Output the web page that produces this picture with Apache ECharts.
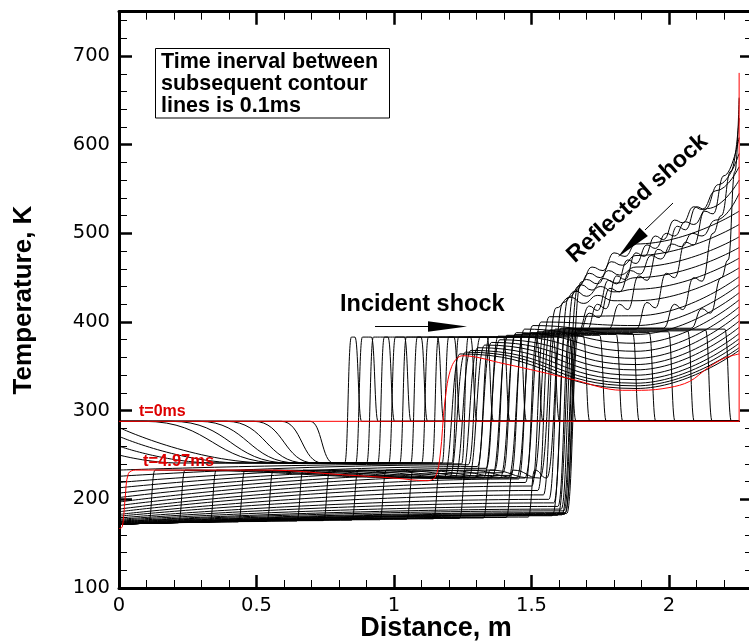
<!DOCTYPE html>
<html>
<head>
<meta charset="utf-8">
<script src="https://cdn.jsdelivr.net/npm/echarts@6/dist/echarts.min.js"></script>
<style>
  html, body { margin: 0; padding: 0; background: #fff; }
  #chart { width: 749px; height: 644px; }
</style>
</head>
<body>
<div id="chart"></div>
<script>
// Temperature along the shock tube, one profile every 0.1 ms (k = 1..49),
// plus the initial state (t = 0) and the last state (t = 4.97 ms) in red.

const TUBE_END = 2.255;      // end wall, m
const T_INITIAL = 288;       // initial gas temperature, K
const T_FAN_TAIL = 241;      // driver gas behind the expansion fan, K
const T_COLD = 172;          // coldest driver gas near x = 0, K
const T_TRANSMITTED = 233;   // driver gas behind the left-running shock, K
const T_NEAR_CONTACT = 224;  // same gas just before the contact surface, K
const DIP_X = 1.88;          // location of the late temperature dip, m

// k = 1..7 : expansion fan head / tail
const fanHeadX = [0.695, 0.59, 0.49, 0.39, 0.29, 0.19, 0.09];
const fanTailX = [0.78, 0.74, 0.71, 0.68, 0.65, 0.62, 0.59];

// k = 8..34 : temperature at x = 0
const wallT = [281, 271, 260, 250,
  233, 226, 219, 213, 207, 202, 197, 193, 189, 186, 183, 181, 179, 177.5,
  176.5, 175.5, 175, 174.5, 174, 173.5, 173, 172.5, 172];

// k = 8..11 : where the reflected fan meets the fan-tail gas
const fanJoinX = [0.55, 0.45, 0.35, 0.22];

// k = 12..34 : driver gas temperature just ahead of the contact surface
const aheadT = [240, 239, 237, 235, 233, 230, 227, 223, 219, 215, 210, 205,
  200, 196, 192, 189, 187, 185, 184, 183, 182.5, 182, 181.5];

// k = 1..49 : contact surface position
const contactX = [0.833, 0.873, 0.913, 0.953, 0.993, 1.033, 1.073, 1.113, 1.15, 1.187,
  1.223, 1.258, 1.292, 1.325, 1.357, 1.388, 1.418, 1.447, 1.475, 1.50,
  1.523, 1.545, 1.565, 1.585, 1.603, 1.618, 1.63, 1.64, 1.645, 1.65,
  1.65, 1.64, 1.625, 1.605, 1.585, 1.56, 1.535, 1.505, 1.475, 1.445,
  1.415, 1.385, 1.355, 1.325, 1.30, 1.275, 1.25, 1.23, 1.21];

// k = 1..23 : incident shock position
const shockX = [0.87, 0.93, 0.99, 1.05, 1.11, 1.17, 1.23, 1.29, 1.35, 1.41, 1.47, 1.53,
  1.59, 1.65, 1.70, 1.76, 1.82, 1.88, 1.94, 2.01, 2.08, 2.145, 2.215];

// k = 1..30 : shocked gas temperature
const plateauT = [383, 383, 383, 383, 383, 383, 383, 383, 383, 383, 383, 383, 383, 383,
  384, 385, 386, 387, 388, 389, 390, 391, 392, 393, 393, 392, 392, 391, 390, 389];

// k = 24..30 : wavy profiles behind the reflected shock
const reflectedRamp = [
  [[2.08, 393], [2.12, 415], [2.15, 410], [2.19, 450], [2.215, 470], [2.24, 570], [2.255, 653]],
  [[1.98, 393], [2.02, 420], [2.05, 414], [2.09, 450], [2.12, 446], [2.16, 500], [2.19, 520], [2.225, 570], [2.255, 630]],
  [[1.88, 392], [1.92, 422], [1.95, 416], [1.99, 455], [2.02, 450], [2.06, 490], [2.09, 487], [2.13, 525], [2.16, 522],
   [2.20, 565], [2.255, 608]],
  [[1.78, 392], [1.82, 420], [1.85, 414], [1.89, 452], [1.92, 447], [1.96, 482], [1.99, 478], [2.03, 508], [2.06, 504],
   [2.10, 530], [2.13, 527], [2.18, 555], [2.255, 590]],
  [[1.70, 391], [1.74, 420], [1.77, 415], [1.81, 452], [1.84, 448], [1.88, 478], [1.91, 474], [1.95, 497], [1.98, 493],
   [2.02, 515], [2.05, 512], [2.09, 530], [2.12, 527], [2.17, 548], [2.255, 575]],
  [[1.67, 390], [1.71, 418], [1.74, 413], [1.78, 447], [1.81, 443], [1.85, 470], [1.88, 466], [1.92, 487], [1.95, 483],
   [1.99, 500], [2.02, 497], [2.06, 513], [2.09, 510], [2.14, 528], [2.255, 560]],
  [[1.675, 389], [1.71, 410], [1.745, 405], [1.785, 438], [1.82, 434], [1.86, 458], [1.895, 454], [1.935, 475], [1.97, 471],
   [2.01, 488], [2.045, 485], [2.085, 500], [2.12, 497], [2.17, 515], [2.255, 545]]
];

// k = 31..49 : late test-gas profile (behind contact, at the dip, at the wall)
const lateTopT  = [445, 440, 434, 428, 422, 416, 406, 400, 396, 392, 388, 384, 380, 377, 374, 371, 368, 366, 364];
const lateMidT  = [488, 475, 462, 450, 437, 424, 407, 396, 386, 376, 367, 359, 352, 346, 340, 335, 331, 328, 325];
const lateWallT = [525, 510, 496, 484, 472, 461, 451, 442, 433, 425, 417, 409, 401, 394, 387, 381, 376, 371, 368];
// k = 31..36 : ripples between the contact and the dip
const lateRipple = [
  [[1.72, 462], [1.76, 458], [1.80, 478], [1.84, 474]],
  [[1.71, 455], [1.75, 450], [1.79, 468], [1.83, 464]],
  [[1.70, 448], [1.74, 443], [1.78, 458], [1.82, 453]],
  [[1.68, 442], [1.72, 436], [1.76, 449], [1.81, 444]],
  [[1.66, 435], [1.70, 429], [1.75, 440], [1.80, 434]],
  [[1.64, 428], [1.69, 421], [1.74, 430], [1.80, 424]]
];

// k = 35..49 : left-running transmitted shock in the driver gas
const frontX = [1.50, 1.42, 1.337, 1.25, 1.155, 1.058, 0.96, 0.858, 0.755, 0.658, 0.549, 0.446, 0.342, 0.228, 0.119];
const frontFootT = [180, 179.5, 179, 178.5, 178, 177.5, 177, 176.5, 176, 175.5, 175, 174.5, 174, 173.5, 173];

// red reference profiles
const profileT0 = [[0, 288], [2.255, 288], [2.255, 681]];
const profileFinal = [[0, 167], [0.012, 169], [0.022, 200], [0.034, 229], [0.06, 233], [0.55, 233],
  [0.8, 228], [1.0, 224], [1.12, 221], [1.15, 225], [1.168, 250], [1.185, 310], [1.21, 350],
  [1.25, 362], [1.4, 353], [1.53, 344], [1.64, 336], [1.83, 323], [1.9, 323], [2.0, 326],
  [2.075, 333], [2.14, 348], [2.2, 359], [2.255, 364]];

// half width of the contact front, widening as the contact slows down
function contactHalfWidth(k) {
  if (k <= 12) return 0.012;
  if (k <= 30) return 0.022;
  return 0.03;
}

function buildProfile(k) {
  const i = k - 1;
  const xc = contactX[i];
  const hw = contactHalfWidth(k);
  const sw = 0.012;                   // half width of a shock front
  const pts = [];
  // driver gas, left of the contact surface
  if (k <= 7) {
    pts.push([0, T_INITIAL], [fanHeadX[i], T_INITIAL], [fanTailX[i], T_FAN_TAIL], [xc - hw, T_FAN_TAIL]);
  } else if (k <= 11) {
    pts.push([0, wallT[k - 8]], [fanJoinX[k - 8], T_FAN_TAIL], [xc - hw, T_FAN_TAIL]);
  } else if (k <= 34) {
    pts.push([0, wallT[k - 8]], [xc - hw, aheadT[k - 12]]);
  } else {
    const j = k - 35;
    pts.push([0, T_COLD], [frontX[j] - sw, frontFootT[j]], [frontX[j] + sw, T_TRANSMITTED], [xc - hw, T_NEAR_CONTACT]);
  }
  // test gas, right of the contact surface
  if (k <= 23) {
    const xs = shockX[i], tp = plateauT[i];
    pts.push([xc + hw, tp], [xs - sw, tp], [xs + sw, T_INITIAL], [TUBE_END, T_INITIAL]);
  } else if (k <= 30) {
    pts.push([xc + hw, plateauT[i]], ...reflectedRamp[k - 24]);
  } else {
    const j = k - 31;
    pts.push([xc + hw, lateTopT[j]]);
    if (j < lateRipple.length) pts.push(...lateRipple[j]);
    pts.push([DIP_X, lateMidT[j]], [TUBE_END, lateWallT[j]]);
  }
  return pts;
}

const series = [];
for (let k = 1; k <= 49; k++) {
  series.push({
    type: 'line', name: 'k' + k, data: buildProfile(k),
    showSymbol: false, symbol: 'none', silent: true,
    smooth: 0.5, smoothMonotone: 'x',
    lineStyle: { color: '#000', width: 1 }, z: 2
  });
}
series.push({
  type: 'line', name: 't=0ms', data: profileT0, showSymbol: false, symbol: 'none', silent: true,
  lineStyle: { color: '#ff0000', width: 1 }, z: 5
});
series.push({
  type: 'line', name: 't=4.97ms', data: profileFinal, showSymbol: false, symbol: 'none', silent: true,
  smooth: 0.35, lineStyle: { color: '#ff0000', width: 1 }, z: 5
});

const BLACK = '#000';
const frameLine = { show: true, onZero: false, lineStyle: { color: BLACK, width: 3 } };
const majorTick = { show: true, inside: true, length: 13, lineStyle: { color: BLACK, width: 2.5 } };
const minorTick = { show: true, splitNumber: 5, length: 8, lineStyle: { color: BLACK, width: 1 } };
const tickFont = { fontFamily: 'DejaVu Sans', fontSize: 19.5, color: BLACK };

const chart = echarts.init(document.getElementById('chart'), null, { renderer: 'canvas' });
chart.setOption({
  animation: false,
  backgroundColor: '#fff',
  grid: { left: 119, top: 11.7, width: 687.5, height: 576.3, containLabel: false, outerBoundsMode: 'none' },
  xAxis: [
    { type: 'value', position: 'bottom', min: 0, max: 2.5, interval: 0.5,
      axisLine: frameLine, axisTick: majorTick, minorTick: minorTick,
      axisLabel: Object.assign({ margin: 8, showMaxLabel: false }, tickFont),
      splitLine: { show: false } },
    { type: 'value', position: 'top', min: 0, max: 2.5, interval: 0.5,
      axisLine: frameLine, axisTick: majorTick, minorTick: minorTick,
      axisLabel: { show: false }, splitLine: { show: false } }
  ],
  yAxis: [
    { type: 'value', position: 'left', offset: 0, min: 100, max: 750, interval: 100,
      axisLine: frameLine, axisTick: majorTick, minorTick: minorTick,
      axisLabel: Object.assign({ margin: 9, showMaxLabel: false }, tickFont),
      splitLine: { show: false } },
    { type: 'value', position: 'right', offset: -53.5, min: 100, max: 750, interval: 100,
      axisLine: frameLine, axisTick: majorTick, minorTick: minorTick,
      axisLabel: { show: false }, splitLine: { show: false } }
  ],
  series: series,
  graphic: [
    { type: 'rect', shape: { x: 155.5, y: 48.5, width: 234, height: 69.5 },
      style: { fill: '#fff', stroke: BLACK, lineWidth: 1 }, z: 10 },
    { type: 'text', x: 161, y: 50.8, z: 11,
      style: { text: 'Time inerval between\nsubsequent contour\nlines is 0.1ms',
        font: 'bold 21.5px "Liberation Sans"', lineHeight: 22.2, fill: BLACK, verticalAlign: 'top' } },
    { type: 'text', x: 340, y: 305, z: 11,
      style: { text: 'Incident shock', font: 'bold 23.5px "Liberation Sans"', fill: BLACK, verticalAlign: 'middle' } },
    { type: 'line', shape: { x1: 375, y1: 326.5, x2: 430, y2: 326.5 }, style: { stroke: BLACK, lineWidth: 1 }, z: 11 },
    { type: 'polygon', shape: { points: [[428, 321.2], [467, 326.5], [428, 331.8]] }, style: { fill: BLACK }, z: 11 },
    { type: 'text', x: 637.5, y: 198.5, rotation: 42 * Math.PI / 180, z: 11,
      style: { text: 'Reflected shock', font: 'bold 23.5px "Liberation Sans"', fill: BLACK, align: 'center', verticalAlign: 'middle' } },
    { type: 'line', shape: { x1: 673, y1: 203, x2: 645, y2: 230 }, style: { stroke: BLACK, lineWidth: 1 }, z: 11 },
    { type: 'polygon', shape: { points: [[618, 257], [647.9, 236.1], [639.5, 227.5]] }, style: { fill: BLACK }, z: 11 },
    { type: 'text', x: 139, y: 411.2, z: 11,
      style: { text: 't=0ms', font: 'bold 16px "Liberation Sans"', fill: '#dd0000', verticalAlign: 'middle' } },
    { type: 'text', x: 143, y: 461.2, z: 11,
      style: { text: 't=4.97ms', font: 'bold 16.5px "Liberation Sans"', fill: '#dd0000', verticalAlign: 'middle' } },
    { type: 'text', x: 436, y: 628.5, z: 11,
      style: { text: 'Distance, m', font: 'bold 27px "Liberation Sans"', fill: BLACK, align: 'center', verticalAlign: 'middle' } },
    { type: 'text', x: 24.2, y: 300, rotation: Math.PI / 2, z: 11,
      style: { text: 'Temperature, K', font: 'bold 26px "Liberation Sans"', fill: BLACK, align: 'center', verticalAlign: 'middle' } }
  ]
});
</script>
</body>
</html>
